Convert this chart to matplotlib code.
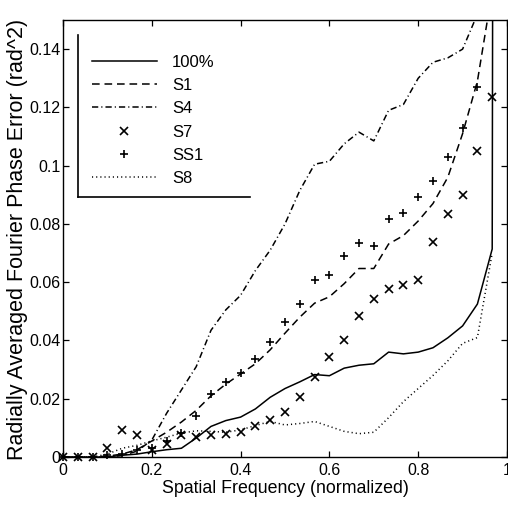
import matplotlib
matplotlib.use("Agg")
import matplotlib.pyplot as plt
import numpy as np

plt.rcParams['font.family'] = ['Liberation Sans', 'DejaVu Sans']
plt.rcParams['lines.scale_dashes'] = False

# spatial frequency samples (k/30) plus the Nyquist point
freq = [k / 30 for k in range(31)]

s100 = [0, 0, 0, 0, 0.0006, 0.001, 0.0018, 0.0025, 0.003, 0.0065, 0.0105, 0.0125,
        0.0137, 0.0165, 0.0205, 0.0235, 0.0258, 0.0283, 0.0279, 0.0305, 0.0315,
        0.032, 0.036, 0.0354, 0.036, 0.0375, 0.0409, 0.045, 0.0525, 0.0714, 3.0]
s1 = [0, 0, 0, 0.0003, 0.001, 0.0025, 0.0055, 0.0085, 0.012, 0.016, 0.021, 0.025,
      0.0285, 0.032, 0.0368, 0.0425, 0.048, 0.0528, 0.055, 0.0595, 0.0647, 0.0647,
      0.0731, 0.076, 0.081, 0.087, 0.096, 0.111, 0.129, 0.16, np.nan]
s4 = [0, 0, 0, 0, 0.0005, 0.002, 0.0058, 0.015, 0.023, 0.031, 0.0435, 0.0505,
      0.0555, 0.064, 0.071, 0.080, 0.0915, 0.1005, 0.1015, 0.1075, 0.1115, 0.1085,
      0.119, 0.121, 0.130, 0.1355, 0.137, 0.140, 0.152, 0.19, np.nan]
s7 = [0, 0, 0, 0.003, 0.0091, 0.0077, 0.0024, 0.0045, 0.0074, 0.0068, 0.0074,
      0.008, 0.0087, 0.0108, 0.0128, 0.0154, 0.0205, 0.0274, 0.0343, 0.040, 0.0484,
      0.0541, 0.0576, 0.0591, 0.0608, 0.0737, 0.0835, 0.0901, 0.105, 0.1234, np.nan]
ss1 = [0, 0, 0, 0.0006, 0.001, 0.0024, 0.003, 0.0055, 0.0082, 0.014, 0.0217,
       0.0258, 0.0289, 0.0337, 0.0395, 0.0463, 0.0524, 0.0607, 0.0624, 0.0689,
       0.0733, 0.0725, 0.0817, 0.0837, 0.0892, 0.0949, 0.103, 0.113, 0.127, np.nan, np.nan]
s8 = [0, 0, 0, 0.001, 0.003, 0.004, 0.0055, 0.0068, 0.0082, 0.009, 0.0088, 0.0085,
      0.0093, 0.0108, 0.0122, 0.011, 0.0115, 0.0122, 0.0105, 0.0088, 0.008, 0.0085,
      0.0135, 0.019, 0.0235, 0.028, 0.033, 0.039, 0.041, 0.070, np.nan]

xticks = [0, 0.2, 0.4, 0.6, 0.8, 1]
xticklabels = ['0', '0.2', '0.4', '0.6', '0.8', '1']
yticks = [0, 0.02, 0.04, 0.06, 0.08, 0.1, 0.12, 0.14]
yticklabels = ['0', '0.02', '0.04', '0.06', '0.08', '0.1', '0.12', '0.14']

FS = 11.5
fig = plt.figure(figsize=(5.08, 5.11), dpi=100)
ax = fig.add_axes([63 / 508, 54 / 511, 444 / 508, 437 / 511])

lw = 1.1
ax.plot(freq, s100, color='black', lw=lw, linestyle='-', label='100%')
ax.plot(freq, s1, color='black', lw=lw, linestyle=(0, (5.5, 3.5)), label='S1')
ax.plot(freq, s4, color='black', lw=lw, linestyle=(0, (4.5, 2.2, 0.8, 2.2)), label='S4')
ax.plot(freq, s7, color='black', lw=0, marker='x', markersize=5.5, mew=1.2,
        clip_on=False, label='S7')
ax.plot(freq, ss1, color='black', lw=0, marker='+', markersize=6, mew=1.2,
        clip_on=False, label='SS1')
ax.plot(freq, s8, color='black', lw=lw, linestyle=(0, (0.8, 2.2)), label='S8')

ax.set_xlim(0, 1)
ax.set_ylim(0, 0.15)
ax.set_xticks(xticks)
ax.set_xticklabels(xticklabels)
ax.set_yticks(yticks)
ax.set_yticklabels(yticklabels)
ax.tick_params(direction='in', length=4, width=0.9, top=True, right=True,
               labelsize=FS, colors='black')
ax.tick_params(axis='y', pad=2)
ax.tick_params(axis='x', pad=4)
for sp in ax.spines.values():
    sp.set_linewidth(1.0)

ax.set_xlabel('Spatial Frequency (normalized)', fontsize=12.8, labelpad=2)
ax.set_ylabel('Radially Averaged Fourier Phase Error (rad^2)', fontsize=15.5)
ax.yaxis.set_label_coords(-0.078, 0.497)

leg = ax.legend(loc='upper left', bbox_to_anchor=(0.065, 0.921), frameon=False,
                fontsize=12, handlelength=3.9, handletextpad=0.9, labelspacing=0.5,
                borderpad=0, borderaxespad=0)

# legend frame (only left and bottom edges are visible in the original)
ax.plot([0.034, 0.034], [0.595, 0.966], color='black', lw=1.2, transform=ax.transAxes)
ax.plot([0.034, 0.421], [0.595, 0.595], color='black', lw=1.2, transform=ax.transAxes)

fig.savefig('out.png', dpi=100)
